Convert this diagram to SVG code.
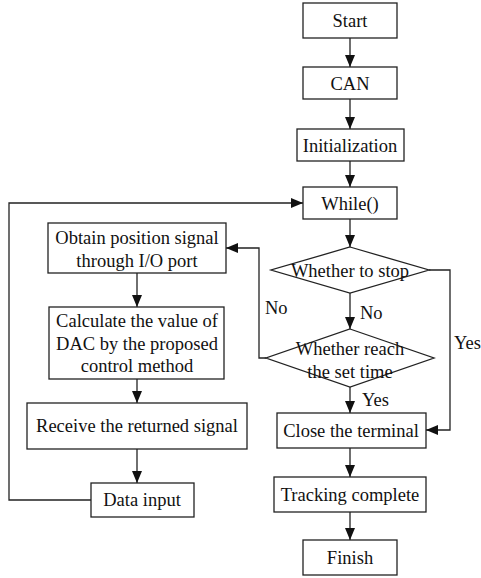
<svg xmlns="http://www.w3.org/2000/svg" width="481" height="578" viewBox="0 0 481 578">
<style>
.b{fill:#fff;stroke:#222;stroke-width:1.3}
.t{font-family:"Liberation Serif","Times New Roman",serif;font-size:18.5px;fill:#111;text-anchor:middle}
.l{font-family:"Liberation Serif","Times New Roman",serif;font-size:18.5px;fill:#111}
.c{fill:none;stroke:#222;stroke-width:1.3}
</style>
<defs>
<marker id="a" viewBox="0 0 12 10" refX="12" refY="5" markerWidth="12" markerHeight="10" markerUnits="userSpaceOnUse" orient="auto">
<path d="M0,0 L12,5 L0,10 Z" fill="#111"/>
</marker>
</defs>
<rect width="481" height="578" fill="#fff"/>
<g id="connectors">
<path class="c" d="M350,38 V67" marker-end="url(#a)"/>
<path class="c" d="M350,99 V129" marker-end="url(#a)"/>
<path class="c" d="M350,161 V187" marker-end="url(#a)"/>
<path class="c" d="M350,219 V247" marker-end="url(#a)"/>
<path class="c" d="M350,293 V329" marker-end="url(#a)"/>
<path class="c" d="M350,387 V413" marker-end="url(#a)"/>
<path class="c" d="M350,448 V477" marker-end="url(#a)"/>
<path class="c" d="M350,512 V540" marker-end="url(#a)"/>
<path class="c" d="M429,270 H450 V430 H426" marker-end="url(#a)"/>
<path class="c" d="M266,358 H259 V248 H226" marker-end="url(#a)"/>
<path class="c" d="M137,273 V307" marker-end="url(#a)"/>
<path class="c" d="M137,379 V403" marker-end="url(#a)"/>
<path class="c" d="M137,449 V483" marker-end="url(#a)"/>
<path class="c" d="M91,500 H9 V203 H303" marker-end="url(#a)"/>
<text class="l" x="360" y="319">No</text>
<text class="l" x="265" y="314">No</text>
<text class="l" x="454" y="349">Yes</text>
<text class="l" x="362" y="406">Yes</text>
</g>
<g id="start"><rect class="b" x="303" y="3" width="94" height="35"/><text class="t" x="350" y="27">Start</text></g>
<g id="can"><rect class="b" x="303" y="67" width="94" height="32"/><text class="t" x="350" y="90">CAN</text></g>
<g id="init"><rect class="b" x="297" y="129" width="107" height="32"/><text class="t" x="350" y="152">Initialization</text></g>
<g id="while"><rect class="b" x="303" y="187" width="94" height="32"/><text class="t" x="350" y="210">While()</text></g>
<g id="stop"><polygon class="b" points="350,247 429,270 350,293 271,270"/><text class="t" x="350" y="277">Whether to stop</text></g>
<g id="reach"><polygon class="b" points="350,329 434,358 350,387 266,358"/><text class="t" x="350" y="355">Whether reach</text><text class="t" x="350" y="378">the set time</text></g>
<g id="close"><rect class="b" x="277" y="413" width="149" height="35"/><text class="t" x="351" y="437">Close the terminal</text></g>
<g id="tracking"><rect class="b" x="274" y="477" width="152" height="35"/><text class="t" x="350" y="501">Tracking complete</text></g>
<g id="finish"><rect class="b" x="303" y="540" width="94" height="35"/><text class="t" x="350" y="564">Finish</text></g>
<g id="obtain"><rect class="b" x="48" y="223" width="178" height="50"/><text class="t" x="137" y="244">Obtain position signal</text><text class="t" x="137" y="267">through I/O port</text></g>
<g id="calc"><rect class="b" x="49" y="307" width="175" height="72"/><text class="t" x="137" y="327">Calculate the value of</text><text class="t" x="137" y="350">DAC by the proposed</text><text class="t" x="137" y="372">control method</text></g>
<g id="receive"><rect class="b" x="27" y="403" width="220" height="46"/><text class="t" x="137" y="432">Receive the returned signal</text></g>
<g id="data"><rect class="b" x="91" y="483" width="103" height="34"/><text class="t" x="142" y="506">Data input</text></g>
</svg>
